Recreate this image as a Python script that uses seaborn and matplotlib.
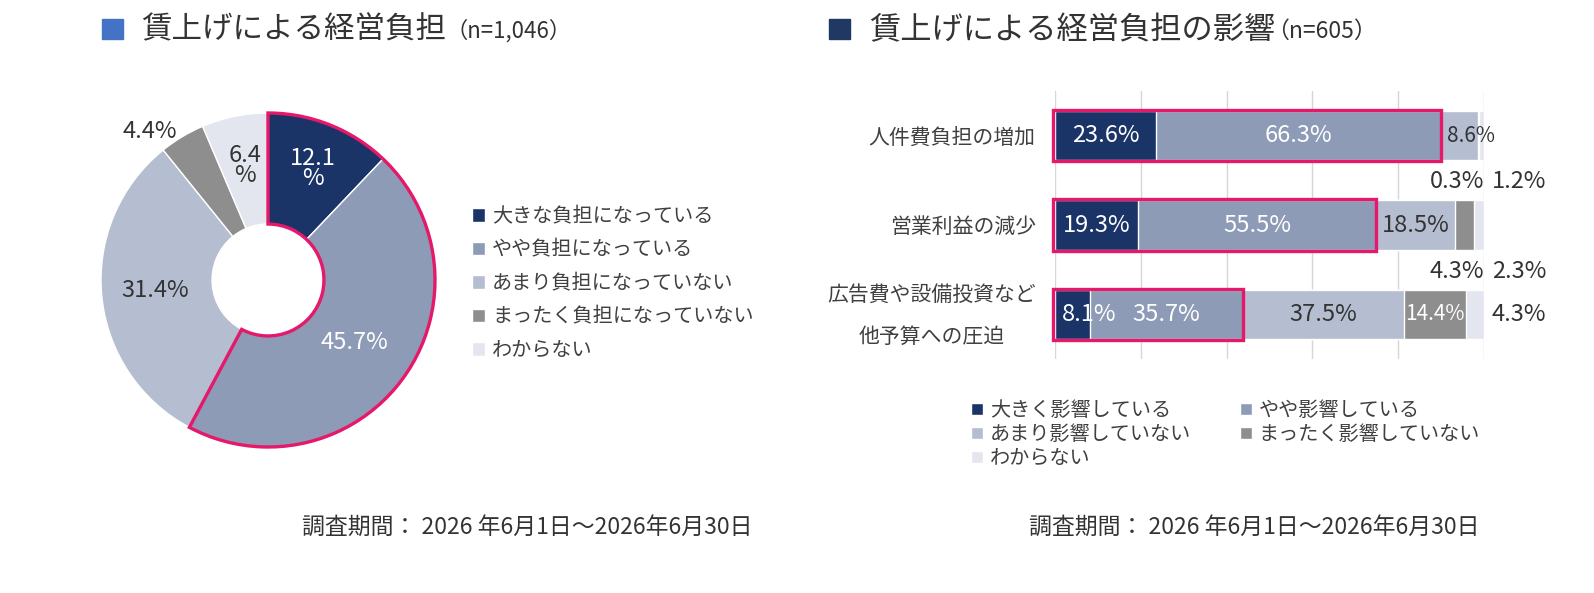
import numpy as np
import pandas as pd
import matplotlib
matplotlib.use("Agg")
import matplotlib.pyplot as plt
from matplotlib.patches import Rectangle, Wedge, Patch
import matplotlib.transforms as mtransforms
import seaborn as sns

# ---------------------------
# Data
# ---------------------------
PIE_LABELS = ["大きな負担になっている", "やや負担になっている", "あまり負担になっていない",
              "まったく負担になっていない", "わからない"]
PIE_VALUES = [12.1, 45.7, 31.4, 4.4, 6.4]

BAR_ITEMS = ["人件費負担の増加", "営業利益の減少", "広告費や設備投資など\n他予算への圧迫"]
BAR_SERIES = ["大きく影響している", "やや影響している", "あまり影響していない",
              "まったく影響していない", "わからない"]
big_impact = [23.6, 19.3, 8.1]
some_impact = [66.3, 55.5, 35.7]
little_impact = [8.6, 18.5, 37.5]
no_impact = [0.3, 4.3, 14.4]
unknown = [1.2, 2.3, 4.3]

TITLE_LEFT = "賃上げによる経営負担"
N_LEFT = "（n=1,046）"
TITLE_RIGHT = "賃上げによる経営負担の影響"
N_RIGHT = "（n=605）"
PERIOD = "調査期間： 2026 年6月1日～2026年6月30日"

# ---------------------------
# Style
# ---------------------------
COLORS = ["#1B3468", "#8D9BB6", "#B5BDD1", "#8E8E8E", "#E4E6EF"]
PINK = "#E5186A"
TEXT = "#333333"

sns.set_theme(style="white")
plt.rcParams["font.family"] = ["Noto Sans CJK JP", "DejaVu Sans"]

W, H = 1594, 593
fig = plt.figure(figsize=(W / 100, H / 100), dpi=100)


def fx(px):
    return px / W


def fy(py):
    return 1 - py / H


# ---------------------------
# Titles and footers
# ---------------------------
fig.patches.append(Rectangle((fx(102), fy(39)), 21 / W, 20 / H, transform=fig.transFigure,
                             color="#4472C4"))
fig.text(fx(141), fy(30), TITLE_LEFT, fontsize=22, color=TEXT, va="center")
fig.text(fx(446), fy(31), N_LEFT, fontsize=16, color=TEXT, va="center")

fig.patches.append(Rectangle((fx(829), fy(39)), 21 / W, 20 / H, transform=fig.transFigure,
                             color="#1F3864"))
fig.text(fx(869), fy(30), TITLE_RIGHT, fontsize=22.5, color=TEXT, va="center")
fig.text(fx(1266), fy(31), N_RIGHT, fontsize=16.5, color=TEXT, va="center")

fig.text(fx(527), fy(527), PERIOD, fontsize=16.5, color=TEXT, ha="center", va="center")
fig.text(fx(1254), fy(527), PERIOD, fontsize=16.5, color=TEXT, ha="center", va="center")

# ---------------------------
# Donut chart
# ---------------------------
cx, cy, R = 268, 280, 167
ax1 = fig.add_axes([fx(cx - R), fy(cy + R), 2 * R / W, 2 * R / H])
ring = 0.665
wedges, _ = ax1.pie(PIE_VALUES, colors=COLORS, startangle=90, counterclock=False,
                    wedgeprops=dict(width=ring, edgecolor="white", linewidth=1))
ax1.set_xlim(-1, 1)
ax1.set_ylim(-1, 1)
ax1.set_aspect("equal")
ax1.axis("off")

# outline around the first two slices
share = sum(PIE_VALUES[:2]) / sum(PIE_VALUES)
ax1.add_patch(Wedge((0, 0), 1, 90 - share * 360, 90, width=ring, fill=False,
                    edgecolor=PINK, linewidth=2.4, clip_on=False, zorder=5))

label_r = [0.72, 0.64, 0.68, 1.14, 0.70]
label_shift = [0, 0, 0, 7.6, 0]
label_color = ["white", "white", TEXT, TEXT, TEXT]
cum = np.cumsum([0] + PIE_VALUES[:-1])
for i, v in enumerate(PIE_VALUES):
    ang = np.deg2rad(90 - (cum[i] + v / 2) * 3.6 + label_shift[i])
    txt = f"{v}%" if v > 20 or i == 3 else f"{v}\n%"
    ax1.text(label_r[i] * np.cos(ang), label_r[i] * np.sin(ang), txt, ha="center",
             va="center", fontsize=17, color=label_color[i], linespacing=0.85,
             zorder=6, clip_on=False)

fig.legend(wedges, PIE_LABELS, loc="upper left", bbox_to_anchor=(fx(472), fy(206)),
           frameon=False, fontsize=14.5, labelcolor="#404040", handlelength=0.65,
           handleheight=0.65, handletextpad=0.35, labelspacing=0.62, borderpad=0,
           borderaxespad=0)

# ---------------------------
# Stacked bar chart
# ---------------------------
ax2 = fig.add_axes([fx(1055), fy(359), (1484 - 1055) / W, (359 - 91) / H])
series = [big_impact, some_impact, little_impact, no_impact, unknown]
stack = np.cumsum(np.array(series), axis=0)
bar_h = 0.55

for k in range(len(series) - 1, -1, -1):
    df = pd.DataFrame({"item": BAR_ITEMS, "value": stack[k]})
    sns.barplot(data=df, x="value", y="item", color=COLORS[k], saturation=1,
                width=bar_h, orient="h", ax=ax2, zorder=3)

ax2.set_xlim(0, 100)
ax2.set_ylim(2.5, -0.5)
ax2.set_xticks(range(0, 101, 20))
ax2.set_xticklabels([])
ax2.set_yticklabels([])
ax2.xaxis.grid(True, color="#D6D6D6", linewidth=1)
ax2.set_axisbelow(True)
ax2.set_xlabel("")
ax2.set_ylabel("")
sns.despine(ax=ax2, left=True, bottom=True)
ax2.tick_params(axis="both", length=0)

# category labels, centred lines, right edge left of the axis
ylab_tr = mtransforms.blended_transform_factory(ax2.transAxes, ax2.transData)
for i, item in enumerate(BAR_ITEMS):
    ax2.text(-0.045, i + 0.02, item, transform=ylab_tr, ha="right", va="center",
             multialignment="center", linespacing=2.2, fontsize=15, color="#404040")

# outline around the first two segments
for i in range(len(BAR_ITEMS)):
    ax2.add_patch(Rectangle((-0.35, i - 0.2875), stack[1][i] + 0.35, 0.575, fill=False,
                            edgecolor=PINK, linewidth=2.4, clip_on=False, zorder=5))

# value labels
for i in range(len(BAR_ITEMS)):
    for k, vals in enumerate(series):
        v = vals[i]
        start = stack[k][i] - v
        txt = f"{v}%"
        if v < 5:
            if k == 3:
                ax2.text(100, i + 0.515, txt, ha="right", va="center", fontsize=17,
                         color=TEXT, clip_on=False)
            elif series[3][i] < 5:
                ax2.text(101.8, i + 0.515, txt, ha="left", va="center", fontsize=17,
                         color=TEXT, clip_on=False)
            else:
                ax2.text(101.8, i, txt, ha="left", va="center", fontsize=17,
                         color=TEXT, clip_on=False)
            continue
        color = "white" if k in (0, 1, 3) else TEXT
        fs = 15 if (k in (2, 3) and v < 15) else 17
        if v < 10:
            ax2.text(start + 1.5, i, txt, ha="left", va="center", fontsize=fs,
                     color=color, zorder=6, clip_on=False)
        else:
            ax2.text(start + v / 2, i, txt, ha="center", va="center", fontsize=fs,
                     color=color, zorder=6)

handles = [Patch(facecolor=c, edgecolor="white") for c in COLORS]
order = [0, 2, 4, 1, 3]
fig.legend([handles[j] for j in order], [BAR_SERIES[j] for j in order], ncol=2,
           loc="upper left", bbox_to_anchor=(fx(971), fy(400)), frameon=False,
           fontsize=14.5, labelcolor="#404040", handlelength=0.6, handleheight=0.6,
           handletextpad=0.35, labelspacing=0.15, columnspacing=2.4, borderpad=0,
           borderaxespad=0)

fig.savefig("out.png", dpi=100, facecolor="white")
